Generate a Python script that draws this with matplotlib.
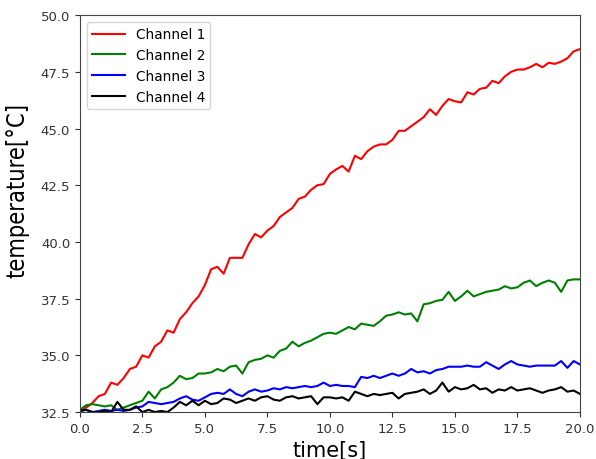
import numpy as np
import matplotlib
matplotlib.use('Agg')
import matplotlib.pyplot as plt

# time axis, one sample every 0.25 s
TIME = np.arange(0, 20.01, 0.25)

CH1 = [32.55, 32.7, 32.9, 33.2, 33.3, 33.8, 33.7, 34.0, 34.4, 34.5,
       35.0, 34.9, 35.4, 35.6, 36.1, 36.0, 36.6, 36.9, 37.3, 37.6,
       38.1, 38.8, 38.9, 38.6, 39.3, 39.3, 39.3, 39.9, 40.35, 40.2,
       40.5, 40.7, 41.1, 41.3, 41.5, 41.9, 42.0, 42.3, 42.5, 42.55,
       43.0, 43.2, 43.35, 43.1, 43.8, 43.65, 44.0, 44.2, 44.3, 44.3,
       44.5, 44.9, 44.9, 45.1, 45.3, 45.5, 45.85, 45.6, 46.0, 46.3,
       46.2, 46.15, 46.6, 46.5, 46.75, 46.8, 47.1, 47.0, 47.3, 47.5,
       47.6, 47.6, 47.7, 47.85, 47.7, 47.9, 47.85, 47.95, 48.1, 48.4,
       48.5]
CH2 = [32.6, 32.8, 32.85, 32.8, 32.75, 32.8, 32.6, 32.7, 32.8, 32.9,
       33.0, 33.4, 33.1, 33.5, 33.6, 33.8, 34.1, 33.95, 34.0, 34.2,
       34.2, 34.25, 34.4, 34.3, 34.5, 34.55, 34.2, 34.7, 34.8, 34.85,
       35.0, 34.9, 35.2, 35.3, 35.6, 35.4, 35.55, 35.65, 35.8, 35.95,
       36.0, 35.95, 36.1, 36.25, 36.15, 36.4, 36.35, 36.3, 36.5, 36.75,
       36.8, 36.9, 36.8, 36.85, 36.5, 37.25, 37.3, 37.4, 37.45, 37.8,
       37.4, 37.6, 37.85, 37.6, 37.7, 37.8, 37.85, 37.9, 38.05, 37.95,
       38.0, 38.2, 38.3, 38.05, 38.2, 38.3, 38.2, 37.8, 38.3, 38.35,
       38.35]
CH3 = [32.55, 32.6, 32.5, 32.55, 32.6, 32.55, 32.6, 32.55, 32.6, 32.7,
       32.75, 32.95, 32.9, 32.85, 32.9, 32.95, 33.1, 33.2, 33.05, 33.0,
       33.15, 33.3, 33.35, 33.3, 33.5, 33.3, 33.2, 33.4, 33.5, 33.4,
       33.45, 33.55, 33.5, 33.6, 33.55, 33.6, 33.65, 33.6, 33.65, 33.8,
       33.65, 33.7, 33.65, 33.65, 33.6, 34.05, 34.0, 34.1, 34.0, 34.1,
       34.2, 34.1, 34.2, 34.4, 34.25, 34.3, 34.2, 34.35, 34.4, 34.5,
       34.5, 34.5, 34.55, 34.5, 34.5, 34.7, 34.55, 34.4, 34.6, 34.75,
       34.6, 34.55, 34.5, 34.55, 34.55, 34.55, 34.55, 34.75, 34.45, 34.75,
       34.6]
CH4 = [32.55, 32.6, 32.5, 32.5, 32.55, 32.5, 32.95, 32.6, 32.6, 32.75,
       32.5, 32.6, 32.5, 32.55, 32.5, 32.7, 32.95, 32.8, 33.0, 32.8,
       33.0, 32.85, 32.9, 33.1, 33.05, 32.9, 33.0, 33.1, 33.0, 33.15,
       33.2, 33.05, 33.0, 33.15, 33.2, 33.1, 33.15, 33.2, 32.85, 33.15,
       33.15, 33.1, 33.15, 33.0, 33.4, 33.3, 33.2, 33.3, 33.25, 33.3,
       33.35, 33.1, 33.3, 33.35, 33.4, 33.5, 33.3, 33.45, 33.8, 33.4,
       33.6, 33.5, 33.55, 33.7, 33.5, 33.55, 33.35, 33.5, 33.45, 33.6,
       33.45, 33.5, 33.55, 33.45, 33.35, 33.45, 33.5, 33.6, 33.4, 33.45,
       33.3]

fig = plt.figure(figsize=(5.96, 4.6), dpi=100)
ax = fig.add_axes([0.134, 0.102, 0.839, 0.863])

ax.plot(TIME, CH1, color='red', lw=1.5, label='Channel 1')
ax.plot(TIME, CH2, color='green', lw=1.5, label='Channel 2')
ax.plot(TIME, CH3, color='blue', lw=1.5, label='Channel 3')
ax.plot(TIME, CH4, color='black', lw=1.5, label='Channel 4')

ax.set_xlim(0, 20)
ax.set_ylim(32.5, 50)
ax.set_xticks(np.arange(0, 20.1, 2.5))
ax.set_yticks(np.arange(32.5, 50.1, 2.5))
ax.tick_params(labelsize=9.5, colors='#333333')
for sp in ax.spines.values():
    sp.set_color('#444444')

ax.set_xlabel('time[s]', fontsize=15)
ax.set_ylabel('temperature[°C]', fontsize=17, fontstretch='condensed')
ax.yaxis.set_label_coords(-0.1, 0.56)
ax.legend(loc='upper left', fontsize=9.8, handlelength=2.4)

fig.savefig('out.png', dpi=100)
